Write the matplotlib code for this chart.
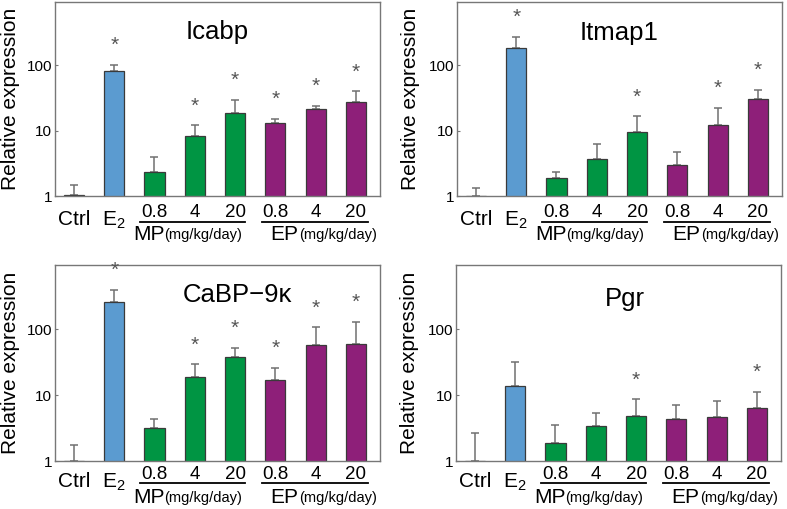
import matplotlib
matplotlib.use("Agg")
from matplotlib import pyplot as plt
import numpy as np

plt.rcParams['font.family'] = ['Liberation Sans', 'DejaVu Sans']
plt.rcParams['mathtext.default'] = 'regular'

# group order: Ctrl, E2, MP 0.8/4/20, EP 0.8/4/20
doses = ["0.8", "4", "20"]
bar_colors = ['#5b9bd0'] * 2 + ['#009543'] * 3 + ['#8e1f79'] * 3
bar_colors[0] = 'white'

icabp_mean = [1.03, 81, 2.35, 8.2, 19, 13.2, 21.3, 27.5]
icabp_err = [0.44, 21, 1.63, 3.9, 10.9, 2.1, 3.0, 13.0]
icabp_sig = [0, 1, 0, 1, 1, 1, 1, 1]

itmap1_mean = [1.0, 188, 1.91, 3.72, 9.5, 2.94, 12.4, 31]
itmap1_err = [0.34, 89, 0.45, 2.44, 7.1, 1.76, 10.0, 11.6]
itmap1_sig = [0, 1, 0, 0, 1, 0, 1, 1]

cabp_mean = [1.0, 254, 3.11, 19, 37.5, 16.9, 57.7, 59]
cabp_err = [0.73, 142, 1.16, 10.3, 15, 9.1, 49, 69]
cabp_sig = [0, 1, 0, 1, 1, 1, 1, 1]

pgr_mean = [1.0, 13.7, 1.9, 3.41, 4.79, 4.27, 4.67, 6.34]
pgr_err = [1.67, 18.4, 1.59, 1.97, 3.81, 2.78, 3.53, 4.86]
pgr_sig = [0, 0, 0, 0, 1, 0, 0, 1]

panels = [
    ("Icabp", icabp_mean, icabp_err, icabp_sig, 0.50, 0.845),
    ("Itmap1", itmap1_mean, itmap1_err, itmap1_sig, 0.50, 0.84),
    ("CaBP\u22129\u03ba", cabp_mean, cabp_err, cabp_sig, 0.56, 0.847),
    ("Pgr", pgr_mean, pgr_err, pgr_sig, 0.52, 0.826),
]

fig = plt.figure(figsize=(7.87, 5.09), dpi=100)
rects = [
    [0.0699, 0.6149, 0.413, 0.381],
    [0.5807, 0.6149, 0.413, 0.381],
    [0.0699, 0.0943, 0.413, 0.385],
    [0.5794, 0.0943, 0.413, 0.385],
]
# label offsets below axes (dose, line, ctrl, group) for top / bottom rows
row_off = [(-0.087, -0.134, -0.123, -0.196), (-0.071, -0.114, -0.107, -0.184)]
ylab_x = [-0.108, -0.115, -0.108, -0.115]

x = np.arange(8)
for k, (rect, (title, mean, err, sig, tx, ty)) in enumerate(zip(rects, panels)):
    ax = fig.add_axes(rect)
    ax.set_yscale('log')
    ax.bar(x, mean, width=0.5, color=bar_colors, edgecolor='#3a3a3a', linewidth=0.9, zorder=2)
    ax.errorbar(x, mean, yerr=[np.zeros(8), err], fmt='none', ecolor='#707070',
                elinewidth=1.1, capsize=3, capthick=1.1, zorder=1)
    for xi, m, e, s in zip(x, mean, err, sig):
        if s:
            ax.annotate('*', xy=(xi, m + e), xytext=(0, 7), textcoords='offset points',
                        ha='center', va='bottom', fontsize=15, color='#555555')
    ax.set_ylim(1, 10 ** 2.97)
    ax.set_xlim(-0.47, 7.6)
    ax.set_yticks([1, 10, 100])
    ax.set_yticklabels(['1', '10', '100'])
    ax.yaxis.set_minor_locator(matplotlib.ticker.NullLocator())
    ax.tick_params(axis='y', direction='in', length=2, pad=2, labelsize=11, color='#777777')
    ax.set_xticks([])
    for sp in ax.spines.values():
        sp.set_color('#777777')
        sp.set_linewidth(1.0)
    ax.set_ylabel('Relative expression', fontsize=15)
    ax.yaxis.set_label_coords(ylab_x[k], 0.5)
    ax.text(tx, ty, title, transform=ax.transAxes, ha='center', va='center', fontsize=18.5)

    d_y, l_y, c_y, g_y = row_off[k // 2]
    tr = ax.get_xaxis_transform()
    ax.text(0, c_y, 'Ctrl', transform=tr, ha='center', va='center', fontsize=15)
    ax.text(1, c_y, 'E$_2$', transform=tr, ha='center', va='center', fontsize=15)
    for xi, d in zip(x[2:], doses + doses):
        ax.text(xi, d_y, d, transform=tr, ha='center', va='center', fontsize=13.5)
    for lo, hi, grp, split in [(1.64, 4.24, 'MP', 2.25), (4.66, 7.3, 'EP', 5.58)]:
        ax.plot([lo, hi], [l_y, l_y], transform=tr, color='black', lw=1.3, clip_on=False)
        ax.text(split, g_y, grp, transform=tr, ha='right', va='center', fontsize=15)
        ax.text(split, g_y - 0.005, '(mg/kg/day)', transform=tr, ha='left', va='center', fontsize=10.5)

fig.savefig('out.png', dpi=100)
